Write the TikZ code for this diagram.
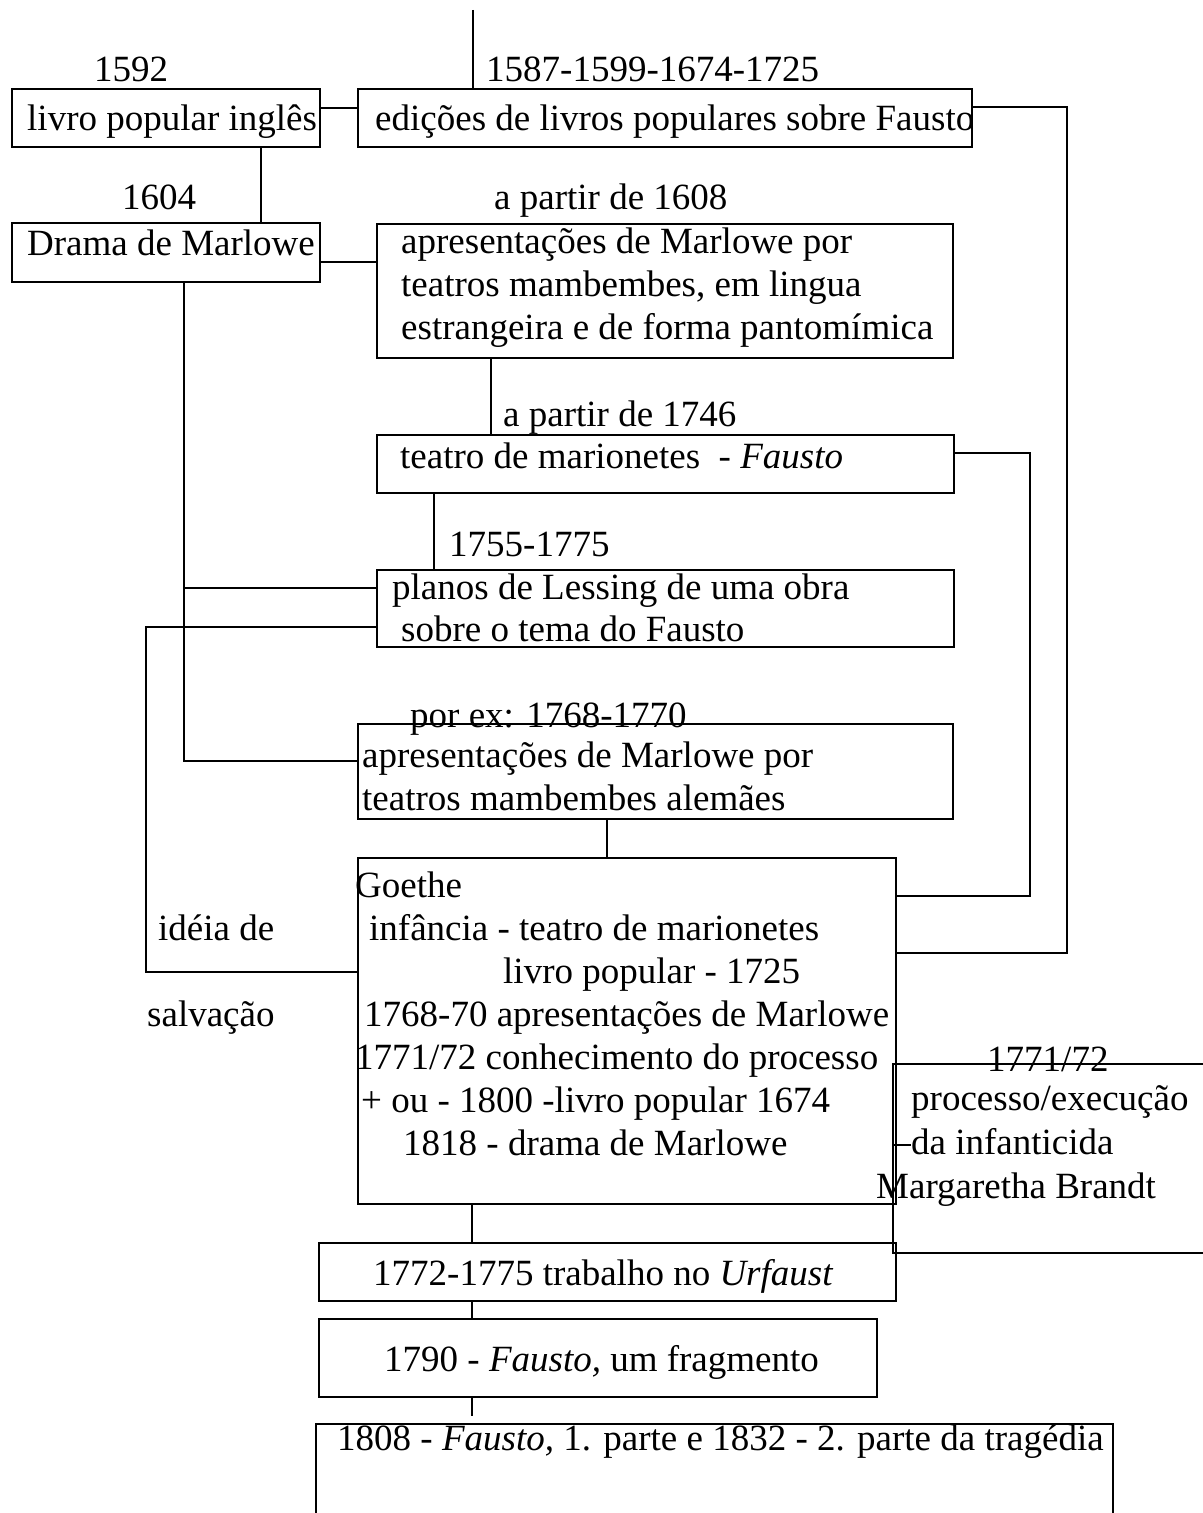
\documentclass[tikz,border=0pt]{standalone}
\usepackage{fontspec}
\setmainfont{Liberation Serif}
\tikzset{
  box/.style={draw, line width=1.8bp, inner sep=0, anchor=north west},
  txt/.style={inner sep=0, anchor=base west, yshift=-3bp},
  link/.style={line width=1.8bp}
}
\begin{document}
\begin{tikzpicture}[x=1bp, y=-1bp, font=\fontsize{37bp}{43bp}\selectfont]
  \useasboundingbox (0,0) rectangle (1202,1513);
  % boxes
  \node[box, minimum width=308bp, minimum height=58bp] at (11,88) (livro) {};
  \node[box, minimum width=614bp, minimum height=58bp] at (357,88) (edicoes) {};
  \node[box, minimum width=308bp, minimum height=59bp] at (11,222) (drama) {};
  \node[box, minimum width=576bp, minimum height=134bp] at (376,223) (marlowe) {};
  \node[box, minimum width=577bp, minimum height=58bp] at (376,434) (marion) {};
  \node[box, minimum width=577bp, minimum height=77bp] at (376,569) (lessing) {};
  \node[box, minimum width=595bp, minimum height=95bp] at (357,723) (alemaes) {};
  \node[box, minimum width=538bp, minimum height=346bp] at (357,857) (goethe) {};
  \node[box, minimum width=330bp, minimum height=189bp] at (892,1063) (marga) {};
  \node[box, minimum width=577bp, minimum height=58bp] at (318,1242) (urfaust) {};
  \node[box, minimum width=558bp, minimum height=78bp] at (318,1318) (fragm) {};
  \node[box, minimum width=797bp, minimum height=120bp] at (315,1423) (trag) {};
  % texts
  \node[txt] at (94,79) (t1592) {1592};
  \node[txt] at (486,79) (t1587) {1587-1599-1674-1725};
  \node[txt] at (27,128) (tlivro) {livro popular inglês};
  \node[txt] at (375,128) (tedic) {edições de livros populares sobre Fausto};
  \node[txt] at (122,207) (t1604) {1604};
  \node[txt] at (27,252) (tdrama) {Drama de Marlowe};
  \node[txt] at (494,207) (t1608) {a partir de 1608};
  \node[txt] at (401,250) (tm1) {apresentações de Marlowe por};
  \node[txt] at (401,293) (tm2) {teatros mambembes, em lingua};
  \node[txt] at (401,336) (tm3) {estrangeira e de forma pantomímica};
  \node[txt] at (503,423) (t1746) {a partir de 1746};
  \node[txt] at (400,465) (tmar) {teatro de marionetes \ - \textit{Fausto}};
  \node[txt] at (449,553) (t1755) {1755-1775};
  \node[txt] at (392,596) (tl1) {planos de Lessing de uma obra};
  \node[txt] at (401,638) (tl2) {sobre o tema do Fausto};
  \node[txt] at (410,724) (t1768) {por ex: 1768-1770};
  \node[txt] at (362,764) (ta1) {apresentações de Marlowe por};
  \node[txt] at (362,807) (ta2) {teatros mambembes alemães};
  \node[txt] at (355,894) (tg0) {Goethe};
  \node[txt] at (369,937) (tg1) {infância - teatro de marionetes};
  \node[txt] at (503,980) (tg2) {livro popular - 1725};
  \node[txt] at (364,1023) (tg3) {1768-70 apresentações de Marlowe};
  \node[txt] at (355,1066) (tg4) {1771/72 conhecimento do processo};
  \node[txt] at (361,1109) (tg5) {+ ou - 1800 -livro popular 1674};
  \node[txt] at (403,1152) (tg6) {1818 - drama de Marlowe};
  \node[txt] at (158,937) (tidea) {idéia de};
  \node[txt] at (147,1023) (tsalv) {salvação};
  \node[txt] at (987,1068) (t1771) {1771/72};
  \node[txt] at (911,1107) (tp1) {processo/execução};
  \node[txt] at (911,1151) (tp2) {da infanticida};
  \node[txt] at (876,1195) (tp3) {Margaretha Brandt};
  \node[txt] at (373,1282) (turf) {1772-1775 trabalho no \textit{Urfaust}};
  \node[txt] at (384,1368) (tfrag) {1790 - \textit{Fausto,} um fragmento};
  \node[txt] at (337,1447) (ttrag) {1808 - \textit{Fausto,} 1. parte e 1832 - 2. parte da tragédia};
  % connectors
  \coordinate (top) at (473,10);
  \coordinate (down) at (472,1416);
  \coordinate (dash) at (911,1145);
  \draw[link] (top) -- (top |- edicoes.north);
  \draw[link] (livro.east |- 0,108) -- (edicoes.west |- 0,108);
  \draw[link] (livro.south -| 261,0) -- (drama.north -| 261,0);
  \draw[link] (drama.east |- 0,262) -- (marlowe.west |- 0,262);
  \draw[link] (drama.south -| 184,0) -- (184,761) -- (alemaes.west |- 0,761);
  \draw[link] (184,588) -- (lessing.west |- 0,588);
  \draw[link] (marlowe.south -| 491,0) -- (marion.north -| 491,0);
  \draw[link] (marion.south -| 434,0) -- (lessing.north -| 434,0);
  \draw[link] (lessing.west |- 0,627) -- (146,627) -- (146,972) -- (goethe.west |- 0,972);
  \draw[link] (alemaes.south -| 607,0) -- (goethe.north -| 607,0);
  \draw[link] (marion.east |- 0,453) -- (1030,453) -- (1030,896) -- (goethe.east |- 0,896);
  \draw[link] (edicoes.east |- 0,107) -- (1067,107) -- (1067,953) -- (goethe.east |- 0,953);
  \draw[link] (goethe.south -| 472,0) -- (urfaust.north -| 472,0);
  \draw[link] (urfaust.south -| 472,0) -- (fragm.north -| 472,0);
  \draw[link] (fragm.south -| 472,0) -- (down);
  \draw[link] (marga.west |- dash) -- (dash);
\end{tikzpicture}
\end{document}
